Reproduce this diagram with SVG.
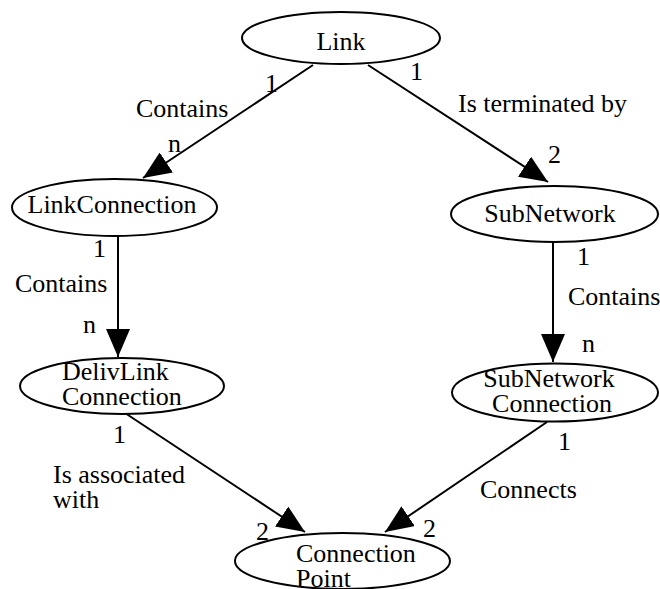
<svg xmlns="http://www.w3.org/2000/svg" width="660" height="589" viewBox="0 0 660 589">
<style>
.node ellipse{fill:#fff;stroke:#000;stroke-width:2}
.edge line{stroke:#000;stroke-width:2;marker-end:url(#arr)}
.mid{text-anchor:middle}
text{font-family:"Liberation Serif","Times New Roman",serif;font-size:26px;fill:#000}
</style>
<defs>
<marker id="arr" markerUnits="userSpaceOnUse" markerWidth="30" markerHeight="24" refX="28" refY="12" orient="auto">
<path d="M0,0 L28,12 L0,24 z" fill="#000"/>
</marker>
</defs>
<rect width="660" height="589" fill="#fff"/>
<g id="connectors" class="edge">
<line x1="313" y1="65" x2="143" y2="178"/>
<line x1="368" y1="65" x2="548" y2="182"/>
<line x1="118" y1="236" x2="118" y2="357"/>
<line x1="553" y1="242" x2="553" y2="362"/>
<line x1="125" y1="413" x2="305" y2="532"/>
<line x1="547" y1="422" x2="385" y2="532"/>
</g>
<g id="edge-labels">
<text x="265" y="92">1</text>
<text x="136" y="117">Contains</text>
<text x="168" y="152">n</text>
<text x="410" y="80">1</text>
<text x="458" y="112">Is terminated by</text>
<text x="548" y="163">2</text>
<text x="93" y="257">1</text>
<text x="15" y="292">Contains</text>
<text x="83" y="333">n</text>
<text x="577" y="265">1</text>
<text x="568" y="305">Contains</text>
<text x="582" y="352">n</text>
<text x="113" y="443">1</text>
<text x="53" y="483">Is associated</text>
<text x="53" y="508">with</text>
<text x="256" y="540">2</text>
<text x="558" y="450">1</text>
<text x="480" y="498">Connects</text>
<text x="423" y="537">2</text>
</g>
<g id="Link" class="node">
<ellipse cx="341" cy="38" rx="99" ry="26"/>
<text class="mid" x="341" y="50">Link</text>
</g>
<g id="LinkConnection" class="node">
<ellipse cx="114.5" cy="207.5" rx="102.5" ry="28.5"/>
<text class="mid" x="112" y="213">LinkConnection</text>
</g>
<g id="SubNetwork" class="node">
<ellipse cx="554.5" cy="214" rx="103.5" ry="28"/>
<text class="mid" x="550" y="222">SubNetwork</text>
</g>
<g id="DelivLinkConnection" class="node">
<ellipse cx="122" cy="386" rx="102" ry="28"/>
<text x="62" y="380">DelivLink</text>
<text x="62" y="405">Connection</text>
</g>
<g id="SubNetworkConnection" class="node">
<ellipse cx="555" cy="392.5" rx="103" ry="29"/>
<text class="mid" x="549" y="387">SubNetwork</text>
<text class="mid" x="552" y="412">Connection</text>
</g>
<g id="ConnectionPoint" class="node">
<ellipse cx="342.5" cy="561" rx="107.5" ry="28"/>
<text x="296" y="562">Connection</text>
<text x="296" y="587">Point</text>
</g>
</svg>
